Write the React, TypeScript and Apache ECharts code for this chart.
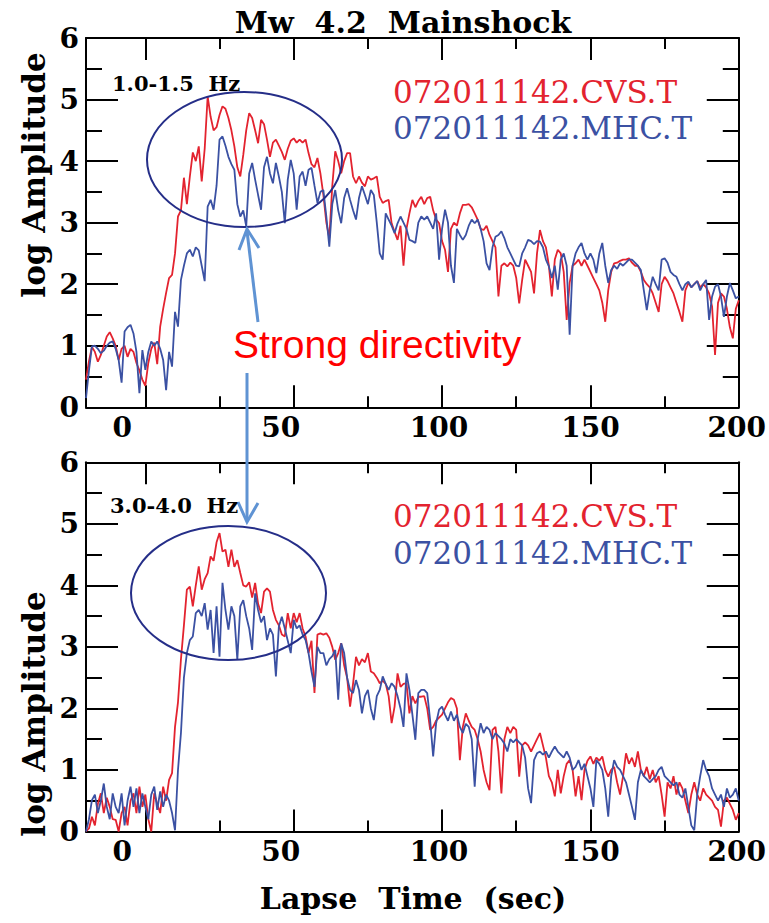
import React, { useEffect, useRef } from "react";
import * as echarts from "echarts";

// ---------- data (time axis: T0 + i * DT seconds) ----------
const T0 = -20;
const DT = 1;

const xLabelValues = [0, 50, 100, 150, 200];
const xMajorTicks = [0, 50, 100, 150];
const xMinorTicks = [25, 75, 125, 175];
const yLabelValues = [0, 1, 2, 3, 4, 5, 6];
const yMajorTicks = [1, 2, 3, 4, 5, 6];
const yMinorTicks = [0.5, 1.5, 2.5, 3.5, 4.5, 5.5];

const seriesNames = ["072011142.CVS.T", "072011142.MHC.T"];
const bandLabels = ["1.0-1.5  Hz", "3.0-4.0  Hz"];

// 1.0-1.5 Hz, CVS (red)
const topCVS = [
  0.45, 0.75, 0.98, 0.9, 0.74, 0.85, 1.0, 1.15, 1.22, 1.12,
  1.0, 0.77, 0.95, 1.0, 0.82, 0.95, 0.9, 0.72, 0.6, 0.45,
  0.35, 0.72, 0.95, 1.05, 0.7, 1.31, 1.6, 1.86, 2.1, 2.15,
  2.5, 3.1, 3.2, 3.73, 3.3, 3.75, 4.14, 4.0, 4.24, 3.67,
  4.2, 5.05, 4.72, 4.5, 4.55, 4.75, 4.89, 4.85, 4.7, 4.5,
  4.24, 3.9, 3.75, 4.1, 4.5, 4.78, 4.7, 4.5, 4.29, 4.67,
  4.6, 4.35, 4.07, 4.3, 4.35, 4.25, 4.15, 4.02, 4.2, 4.33,
  4.37, 4.3, 4.35, 4.3, 4.35, 4.13, 3.95, 3.9, 4.05, 3.8,
  3.45, 3.0, 2.75, 3.6, 4.16, 4.0, 3.8, 4.0, 4.13, 4.13,
  3.75, 3.64, 3.75, 3.65, 3.59, 3.75, 3.7, 3.72, 3.75, 3.42,
  3.32, 3.35, 3.37, 2.99, 2.85, 2.72, 2.95, 2.3, 2.9, 3.15,
  3.37, 3.25, 3.35, 3.42, 3.3, 3.4, 3.42, 3.2, 3.05, 2.99,
  2.7, 2.56, 2.2, 2.9, 3.0, 2.95, 3.15, 3.29, 3.29, 3.3,
  3.25, 3.15, 3.05, 2.9, 2.88, 2.95, 2.8, 2.7, 2.6, 1.8,
  2.3, 2.34, 2.29, 2.35, 2.3, 2.1, 1.69, 2.07, 2.4, 2.3,
  2.2, 1.85, 2.5, 2.88, 2.7, 2.6, 2.3, 1.8, 2.4, 2.56,
  2.5, 2.2, 1.42, 2.02, 2.3, 2.34, 2.4, 2.3, 2.4, 2.3,
  2.2, 2.1, 2.0, 1.9, 1.7, 1.39, 1.9, 2.2, 2.34, 2.35,
  2.38, 2.4, 2.4, 2.42, 2.35, 2.3, 2.3, 2.2, 2.07, 2.0,
  1.95, 1.85, 1.7, 1.55, 2.0, 2.12, 2.05, 1.95, 1.85, 1.7,
  1.55, 1.39, 1.9, 2.02, 1.95, 2.0, 2.05, 1.95, 2.0, 1.95,
  1.85, 1.64, 0.85, 1.7, 1.85, 1.8, 1.6, 1.3, 1.12, 1.6,
  1.74,
];

// 1.0-1.5 Hz, MHC (blue)
const topMHC = [
  0.15, 0.6, 0.99, 1.0, 0.95, 0.88, 0.92, 1.0, 1.05, 1.07,
  0.95, 0.77, 0.4, 1.23, 1.3, 1.34, 1.2, 0.9, 0.23, 0.93,
  0.61, 0.9, 1.07, 1.0, 1.07, 0.95, 0.77, 0.28, 0.9, 0.66,
  1.55, 1.31, 2.07, 2.3, 2.5, 2.56, 2.45, 2.6, 2.55, 2.3,
  2.05, 3.26, 3.37, 3.21, 3.6, 4.35, 4.4, 4.25, 4.07, 3.95,
  3.86, 3.3, 3.1, 3.2, 2.94, 3.8, 3.97, 3.7, 3.45, 3.21,
  3.9, 4.07, 3.8, 3.64, 3.97, 3.75, 3.5, 2.99, 3.7, 4.02,
  3.8, 3.21, 3.75, 3.83, 3.6, 3.86, 3.89, 3.6, 3.32, 3.5,
  3.53, 3.1, 2.61, 3.3, 3.53, 3.2, 2.99, 3.4, 3.56, 3.37,
  3.2, 3.05, 3.4, 3.59, 3.45, 3.3, 3.53, 3.45, 3.0, 2.5,
  2.4, 3.15, 3.05, 2.95, 2.83, 2.99, 3.1, 3.0, 2.9, 2.72,
  2.7, 2.67, 3.0, 3.1, 3.05, 3.1, 3.0, 2.9, 3.15, 2.4,
  2.9, 3.21, 3.0, 2.3, 2.02, 2.9, 2.8, 2.72, 2.8, 2.95,
  3.05, 2.99, 3.05, 2.9, 2.7, 2.34, 2.23, 2.6, 2.77, 2.8,
  2.86, 2.75, 2.6, 2.5, 2.4, 2.3, 2.29, 2.5, 2.6, 2.72,
  2.7, 2.65, 2.7, 2.69, 2.6, 2.4, 2.29, 2.1, 2.3, 1.91,
  2.4, 2.5, 2.3, 1.18, 2.3, 2.5, 2.6, 2.67, 2.5, 2.4,
  2.5, 2.4, 2.18, 2.5, 2.67, 2.3, 2.02, 2.23, 2.3, 2.25,
  2.34, 2.3, 2.35, 2.4, 2.4, 2.35, 2.3, 2.23, 1.9, 1.58,
  1.9, 2.12, 2.0, 1.9, 2.4, 2.42, 2.35, 2.2, 2.15, 2.12,
  2.0, 1.9, 2.0, 2.04, 1.95, 2.0, 2.05, 1.9, 2.0, 2.07,
  1.42, 1.8, 1.96, 2.0, 1.8, 1.47, 1.8, 2.02, 1.9, 1.77,
  1.8,
];

// 3.0-4.0 Hz, CVS (red)
const botCVS = [
  0.0, 0.05, 0.24, 0.1, 0.45, 0.62, 0.3, 0.55, 0.4, 0.2,
  0.19, 0.0, 0.3, 0.4, 0.1, 0.5, 0.62, 0.3, 0.73, 0.4,
  0.6, 0.2, 0.0, 0.62, 0.45, 0.3, 0.73, 0.5, 0.84, 0.95,
  1.7, 2.1, 2.8, 3.35, 3.93, 3.98, 3.66, 4.0, 4.31, 3.93,
  4.1, 4.2, 4.47, 4.4, 4.7, 4.85, 4.55, 4.58, 4.3, 4.58,
  4.3, 4.41, 4.2, 4.0, 3.98, 4.05, 3.8, 4.04, 3.7, 3.55,
  3.9, 3.95, 3.9, 3.6, 3.44, 3.35, 3.2, 3.17, 3.55, 3.3,
  3.55, 3.4, 3.55, 3.3, 3.17, 2.9, 3.1, 2.25, 3.2, 3.22,
  3.2, 3.22, 3.15, 3.0, 2.79, 2.9, 3.06, 2.7, 2.5, 2.03,
  2.4, 2.84, 2.7, 2.8, 2.75, 2.9, 2.6, 2.57, 2.5, 2.41,
  2.45, 2.4, 2.2, 1.76, 2.03, 2.57, 2.35, 2.4, 2.41, 1.92,
  2.2, 2.08, 2.19, 2.19, 2.2, 2.0, 1.65, 1.7, 1.8, 1.85,
  1.9, 2.0, 2.1, 2.17, 2.14, 2.0, 1.16, 1.7, 1.92, 1.8,
  1.7, 1.65, 1.5, 1.3, 1.0, 0.8, 0.67, 1.65, 1.7, 1.3,
  0.62, 1.5, 1.7, 1.6, 1.7, 1.65, 0.89, 1.4, 1.45, 1.4,
  1.3, 1.4, 1.5, 1.6, 1.4, 1.2, 0.9, 0.8, 0.57, 1.0,
  0.62, 0.9, 1.1, 1.16, 1.0, 0.57, 0.9, 0.51, 1.0, 1.15,
  1.22, 1.1, 1.2, 1.15, 1.22, 1.0, 0.89, 1.0, 1.05, 0.8,
  0.6, 0.9, 1.27, 1.1, 1.2, 1.05, 1.3, 1.0, 0.9, 1.05,
  0.85, 1.0, 0.8, 0.9, 0.6, 0.24, 0.8, 0.7, 0.9, 0.6,
  0.8, 0.7, 0.5, 0.3, 0.6, 0.8, 0.6, 0.5, 0.7, 0.6,
  0.55, 0.5, 0.4, 0.35, 0.08, 0.5, 0.55, 0.45, 0.35, 0.19,
  0.3,
];

// 3.0-4.0 Hz, MHC (blue)
const botMHC = [
  0.0, 0.2, 0.51, 0.6, 0.3, 0.5, 0.78, 0.4, 0.2, 0.62,
  0.4, 0.3, 0.62, 0.1, 0.5, 0.73, 0.4, 0.7, 0.3, 0.62,
  0.4, 0.2, 0.6, 0.73, 0.35, 0.65, 0.4, 0.6, 0.5, 0.3,
  0.02, 1.0, 1.6, 2.5, 2.9, 3.11, 3.17, 3.55, 3.6, 3.5,
  3.71, 3.28, 3.6, 2.9, 3.66, 2.84, 4.04, 3.6, 3.28, 3.66,
  3.5, 2.79, 3.66, 3.76, 3.5, 3.3, 2.95, 3.87, 3.6, 3.4,
  3.5, 3.11, 3.3, 3.2, 2.52, 3.33, 3.49, 3.3, 3.1, 2.9,
  3.44, 3.3, 3.35, 3.2, 3.11, 2.9, 2.6, 2.35, 3.0, 2.9,
  2.9, 2.7, 2.8, 2.85, 2.95, 2.14, 3.06, 2.9, 2.5, 2.3,
  2.25, 2.46, 2.3, 1.92, 2.2, 2.3, 2.0, 1.81, 2.2, 2.3,
  2.52, 2.4, 2.3, 2.41, 2.35, 2.2, 2.0, 1.7, 2.57, 2.3,
  1.9, 1.49, 2.25, 2.3, 2.3, 2.25, 1.8, 1.22, 1.76, 1.98,
  2.03, 1.9, 1.8, 1.95, 1.8, 1.9, 1.7, 1.6, 1.75, 1.7,
  1.5, 0.73, 1.5, 1.76, 1.6, 1.7, 1.65, 1.5, 1.6, 1.55,
  1.5, 1.43, 1.3, 1.5, 1.45, 1.5, 1.45, 1.4, 1.2, 0.7,
  0.46, 1.16, 1.27, 1.3, 1.25, 1.3, 1.2, 1.3, 1.38, 1.3,
  1.25, 1.2, 1.3, 1.2, 1.0, 1.05, 1.16, 1.0, 1.1, 0.9,
  0.7, 0.4, 1.16, 1.1, 1.0, 0.7, 0.24, 0.9, 1.16, 1.05,
  1.0, 0.9, 0.8, 0.6, 0.4, 0.19, 0.8, 1.0, 0.9, 0.85,
  0.8, 0.85, 0.9, 1.0, 1.05, 0.9, 0.85, 0.8, 0.75, 0.8,
  0.6, 0.55, 0.7, 0.4, 0.1, 0.02, 0.6, 0.9, 1.16, 1.0,
  0.9, 0.7, 0.6, 0.5, 0.6, 0.4, 0.7, 0.55, 0.6, 0.7,
  0.5,
];

// ---------- styling ----------
const RED = "#e3232f";
const BLUE = "#3b51a3";
const NAVY = "#252e88";
const ARROW = "#5f93d3";
const SERIF = "DejaVu Serif";
const SANS = "Liberation Sans";

const W = 769;
const H = 923;
const GRIDS = [
  { left: 86, top: 38, width: 654, height: 369.3 },
  { left: 86, top: 462.3, width: 654, height: 369.2 },
];
// horizontal nudge (px, leftwards) of the hand-placed x tick labels
const xLabelNudge: Record<string, number> = { "0": 46, "50": 26, "100": 6, "150": 0, "200": 4 };

const toPairs = (vals: number[]) => vals.map((v, i) => [T0 + i * DT, v]);

const line = { color: "#000", width: 2 };

function xAxes(g: number) {
  const c = { gridIndex: g, type: "value", min: -20, max: 200, splitLine: { show: false } };
  const rich: any = {};
  xLabelValues.forEach((v) => {
    rich["s" + v] = {
      fontFamily: SERIF,
      fontWeight: "bold",
      fontSize: 28,
      color: "#000",
      padding: [0, xLabelNudge[String(v)] || 0, 0, 0],
    };
  });
  return [
    {
      ...c,
      position: "bottom",
      axisLine: { show: true, onZero: false, lineStyle: line },
      axisTick: { show: true, inside: true, length: 22, customValues: xMajorTicks, lineStyle: line },
      axisLabel: {
        show: true,
        customValues: xLabelValues,
        margin: 6,
        formatter: (v: number) => `{s${v}|${v}}`,
        rich,
      },
    },
    {
      ...c,
      position: "bottom",
      axisLine: { show: false, onZero: false },
      axisTick: { show: true, inside: true, length: 11, customValues: xMinorTicks, lineStyle: line },
      axisLabel: { show: false },
    },
    {
      ...c,
      position: "top",
      axisLine: { show: true, onZero: false, lineStyle: line },
      axisTick: { show: true, inside: true, length: 22, customValues: xMajorTicks, lineStyle: line },
      axisLabel: { show: false },
    },
    {
      ...c,
      position: "top",
      axisLine: { show: false, onZero: false },
      axisTick: { show: true, inside: true, length: 11, customValues: xMinorTicks, lineStyle: line },
      axisLabel: { show: false },
    },
  ];
}

function yAxes(g: number) {
  const c = { gridIndex: g, type: "value", min: 0, max: 6, splitLine: { show: false } };
  return [
    {
      ...c,
      position: "left",
      axisLine: { show: true, onZero: false, lineStyle: line },
      axisTick: { show: true, inside: true, length: 32, customValues: yMajorTicks, lineStyle: line },
      axisLabel: {
        show: true,
        customValues: yLabelValues,
        margin: 7,
        fontFamily: SERIF,
        fontWeight: "bold",
        fontSize: 28,
        color: "#000",
      },
    },
    {
      ...c,
      position: "left",
      axisLine: { show: false, onZero: false },
      axisTick: { show: true, inside: true, length: 16, customValues: yMinorTicks, lineStyle: line },
      axisLabel: { show: false },
    },
    {
      ...c,
      position: "right",
      axisLine: { show: true, onZero: false, lineStyle: line },
      axisTick: { show: true, inside: true, length: 32, customValues: yMajorTicks, lineStyle: line },
      axisLabel: { show: false },
    },
    {
      ...c,
      position: "right",
      axisLine: { show: false, onZero: false },
      axisTick: { show: true, inside: true, length: 16, customValues: yMinorTicks, lineStyle: line },
      axisLabel: { show: false },
    },
  ];
}

function text(x: number, y: number, t: string, s: any, extra: any = {}) {
  return {
    type: "text",
    x,
    y,
    z: 200,
    ...extra,
    style: { text: t, verticalAlign: "middle", align: "left", ...s },
  };
}

export default function App() {
  const ref = useRef<HTMLDivElement>(null);

  useEffect(() => {
    document.body.style.margin = "0";
    if (!ref.current) return;
    const chart = echarts.init(ref.current, undefined, { renderer: "svg" });

    const panels = [
      { cvs: topCVS, mhc: topMHC },
      { cvs: botCVS, mhc: botMHC },
    ];

    const series: any[] = [];
    panels.forEach((p, g) => {
      [p.cvs, p.mhc].forEach((vals, k) => {
        series.push({
          type: "line",
          name: seriesNames[k],
          xAxisIndex: g * 4,
          yAxisIndex: g * 4,
          data: toPairs(vals),
          showSymbol: false,
          symbol: "none",
          lineStyle: { color: k === 0 ? RED : BLUE, width: 1.8 },
          itemStyle: { color: k === 0 ? RED : BLUE },
          z: 2 + k,
        });
      });
    });

    const legendFont = { fontFamily: SERIF, fontSize: 31 };
    const graphic: any[] = [
      text(403, 22, "Mw  4.2  Mainshock", { fontFamily: SERIF, fontWeight: "bold", fontSize: 30, fill: "#000", align: "center" }),
      text(413, 898, "Lapse  Time  (sec)", { fontFamily: SERIF, fontWeight: "bold", fontSize: 30, fill: "#000", align: "center" }),
      text(34, 175, "log Amplitude", { fontFamily: SERIF, fontWeight: "bold", fontSize: 31, fill: "#000", align: "center" }, { rotation: Math.PI / 2 }),
      text(34, 714, "log Amplitude", { fontFamily: SERIF, fontWeight: "bold", fontSize: 31, fill: "#000", align: "center" }, { rotation: Math.PI / 2 }),
      text(112, 83, bandLabels[0], { fontFamily: SERIF, fontWeight: "bold", fontSize: 21, fill: "#000" }),
      text(110, 505, bandLabels[1], { fontFamily: SERIF, fontWeight: "bold", fontSize: 21, fill: "#000" }),
      text(393, 92, seriesNames[0], { ...legendFont, fill: RED }),
      text(393, 128, seriesNames[1], { ...legendFont, fill: BLUE }),
      text(393, 516, seriesNames[0], { ...legendFont, fill: RED }),
      text(393, 553, seriesNames[1], { ...legendFont, fill: BLUE }),
      text(233, 344, "Strong directivity", { fontFamily: SANS, fontSize: 39, fill: "#ff0000" }),
      {
        type: "ellipse",
        z: 150,
        shape: { cx: 244.5, cy: 159.5, rx: 97.5, ry: 67.5 },
        style: { fill: "none", stroke: NAVY, lineWidth: 2 },
      },
      {
        type: "ellipse",
        z: 150,
        shape: { cx: 228.5, cy: 593, rx: 97.5, ry: 67 },
        style: { fill: "none", stroke: NAVY, lineWidth: 2 },
      },
      {
        type: "line",
        z: 160,
        shape: { x1: 258, y1: 322, x2: 247, y2: 231 },
        style: { stroke: ARROW, lineWidth: 3 },
      },
      {
        type: "polyline",
        z: 160,
        shape: { points: [[239, 250], [247, 229], [259, 248]] },
        style: { stroke: ARROW, lineWidth: 3, fill: "none" },
      },
      {
        type: "line",
        z: 160,
        shape: { x1: 247, y1: 373, x2: 247, y2: 520 },
        style: { stroke: ARROW, lineWidth: 3 },
      },
      {
        type: "polyline",
        z: 160,
        shape: { points: [[238, 502], [247, 522], [258, 503]] },
        style: { stroke: ARROW, lineWidth: 3, fill: "none" },
      },
    ];

    chart.setOption({
      animation: false,
      backgroundColor: "#fff",
      grid: GRIDS.map((g) => ({ ...g, containLabel: false })),
      xAxis: [...xAxes(0), ...xAxes(1)],
      yAxis: [...yAxes(0), ...yAxes(1)],
      series,
      graphic,
    } as any);

    return () => chart.dispose();
  }, []);

  return <div ref={ref} style={{ width: W, height: H }} />;
}
